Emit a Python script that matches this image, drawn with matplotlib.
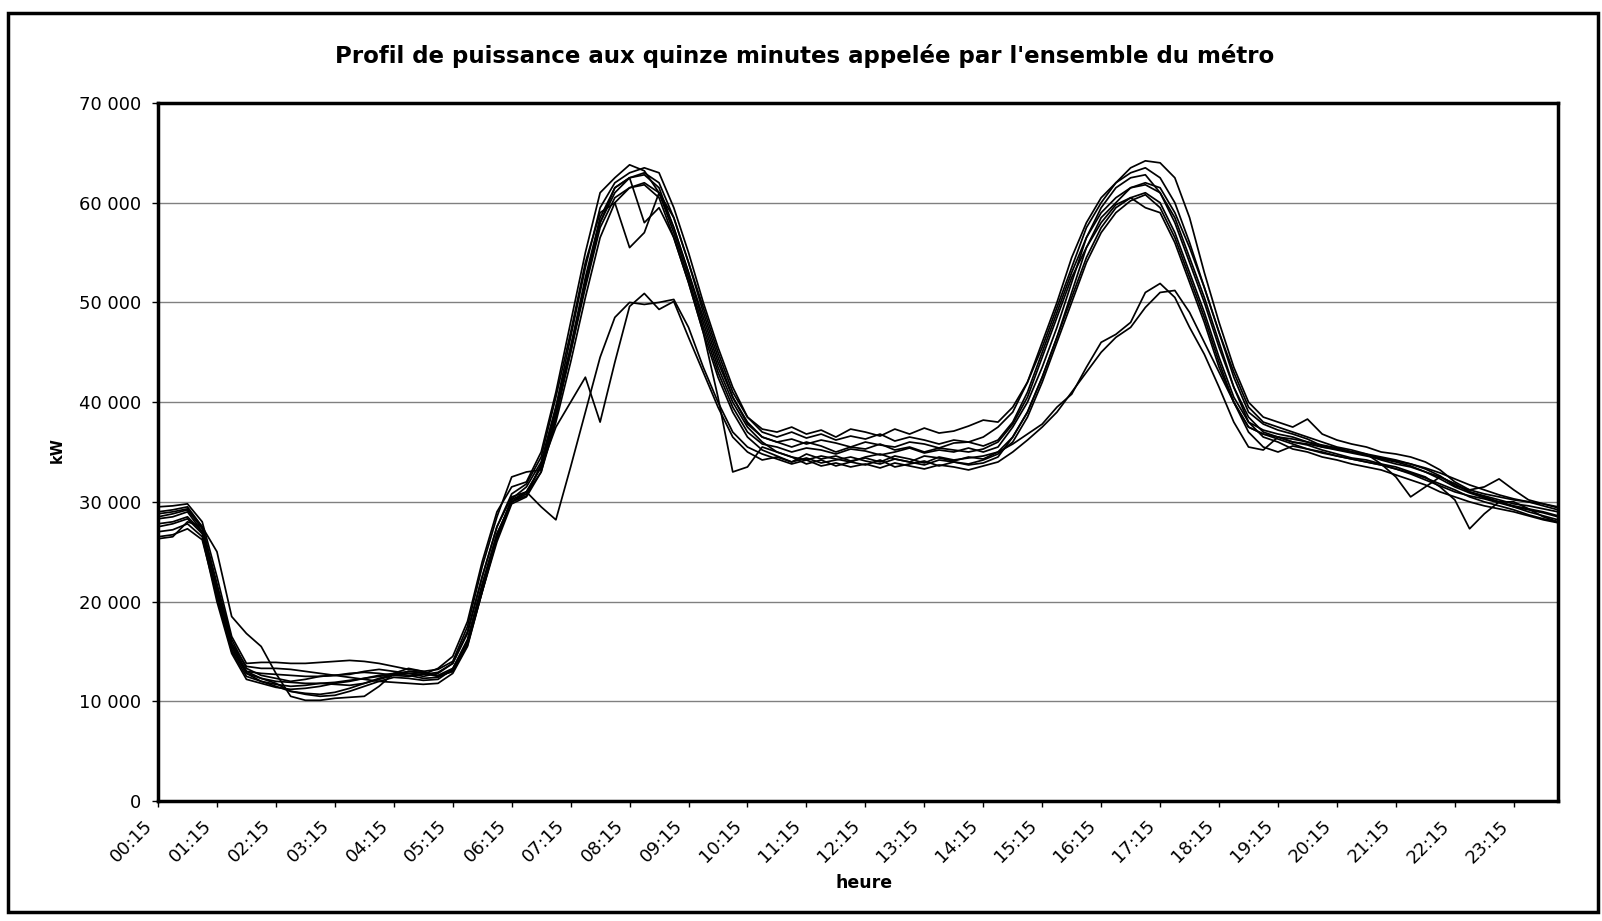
import matplotlib
matplotlib.use("Agg")
import matplotlib.pyplot as plt
from matplotlib.patches import Rectangle
from matplotlib.transforms import ScaledTranslation

plt.rcParams['font.family'] = ['DejaVu Sans']

# 96 quarter-hour steps, 00:15 -> 24:00 ; one label per hour
hours = ["%02d:15" % h for h in range(24)]
ytick_values = [0, 10000, 20000, 30000, 40000, 50000, 60000, 70000]
ytick_labels = ["0", "10 000", "20 000", "30 000", "40 000", "50 000", "60 000", "70 000"]

# power profiles (kW), one list per day
jour_1 = [29500, 29600, 29800, 28000, 22500, 16500, 13800, 13900,
          13900, 13800, 13800, 13900, 14000, 14100, 14000, 13800,
          13500, 13200, 13000, 13200, 14000, 17500, 23500, 28500,
          32500, 33000, 33200, 38500, 45500, 52500, 58500, 61500,
          62500, 63000, 62000, 58500, 54000, 49500, 45000, 41000,
          38500, 37300, 37000, 37500, 36800, 37200, 36500, 37300,
          37000, 36600, 37300, 36800, 37400, 36900, 37100, 37600,
          38200, 38000, 39500, 42000, 45500, 49500, 53500, 57500,
          60000, 62000, 63500, 64200, 64000, 62500, 58500, 53000,
          48000, 43500, 40000, 38500, 38000, 37500, 38300, 36800,
          36200, 35800, 35500, 35000, 34800, 34500, 34000, 33200,
          32000, 31200, 30800, 30500, 30200, 30000, 29800, 29500]

jour_2 = [29000, 29200, 29500, 27500, 21500, 15500, 13000, 12800,
          12700, 12600, 12500, 12500, 12600, 12800, 12900, 12800,
          12600, 12500, 12700, 13300, 14500, 18000, 24000, 29000,
          31500, 32000, 35000, 41000, 48000, 55000, 61000, 62500,
          63800, 63200, 61000, 57000, 52500, 47500, 43000, 39500,
          37000, 35800, 35500, 35000, 35400, 35200, 34800, 35300,
          35100, 34700, 35000, 35400, 34900, 35200, 35000, 35400,
          35000, 35500, 37500, 40000, 43500, 47500, 52000, 56500,
          59500, 61500, 62500, 62800, 61000, 58000, 54000, 50000,
          45500, 41500, 38500, 37000, 36500, 36000, 35800, 35500,
          35200, 34900, 34600, 34300, 34000, 33600, 33000, 32500,
          31800, 31000, 30600, 30200, 29800, 29600, 29300, 29000]

jour_3 = [28500, 28800, 29200, 27300, 21000, 15500, 12800, 12300,
          12000, 11900, 11800, 11800, 11900, 12100, 12300, 12500,
          12700, 12800, 12700, 12900, 13800, 16800, 22500, 27500,
          30500, 31000, 33500, 39000, 45000, 51500, 57500, 60500,
          61500, 62000, 61000, 57500, 53000, 48000, 43500, 40000,
          37500, 36000, 35000, 34500, 34200, 34600, 34300, 34000,
          34500, 34800, 34300, 34000, 34600, 34400, 34100, 34500,
          34300, 35000, 36500, 39000, 42500, 46500, 50500, 54500,
          57500, 59500, 60500, 61000, 60000, 57000, 53000, 49000,
          44500, 40500, 38000, 37200, 36800, 36500, 36000, 35500,
          35300, 35000, 34700, 34200, 33800, 33500, 33000, 32300,
          31500, 30900, 30400, 30000, 29600, 29300, 29000, 28600]

jour_4 = [27500, 27800, 28300, 26800, 20500, 15000, 12500, 12000,
          11700, 11500, 11600, 11800, 11700, 11600, 11800, 12200,
          12600, 13000, 12900, 12600, 13300, 16200, 21800, 26800,
          30000, 30800, 33000, 38000, 44000, 50500, 56500, 60000,
          61500, 61800, 60500, 56500, 52000, 47000, 42500, 39000,
          36500, 35200, 34600, 34000, 34400, 33900, 34200, 34500,
          34100, 33800, 34300, 34000, 33700, 34200, 34000, 33800,
          34200, 34800, 36000, 38500, 42000, 46000, 50000, 54000,
          57000, 59000, 60200, 60800, 59500, 56500, 52500, 48500,
          44000, 40000, 37500, 36800, 36500, 36000, 35700, 35200,
          34800, 34400, 34200, 33800, 33500, 33000, 32500, 31500,
          30200, 27300, 28800, 30000, 30000, 29300, 28500, 28000]

jour_5 = [27000, 27200, 27800, 26500, 20000, 14800, 12200, 11800,
          11400, 11200, 11300, 11500, 11800, 12000, 12300, 12600,
          12800, 12600, 12300, 12400, 13200, 16000, 21500, 26500,
          30300, 31500, 34000, 39500, 45500, 52000, 58000, 61500,
          62500, 62800, 61500, 57500, 53000, 48500, 44000, 40500,
          38000, 36500, 36000, 36300, 35800, 36200, 35900, 35500,
          36000, 35700, 35500, 36000, 35800, 35400, 35900, 36000,
          35600, 36200, 38000, 41000, 45000, 49000, 53000, 56500,
          59000, 60500, 61500, 62000, 61500, 59000, 55500, 51500,
          47000, 42500, 39000, 37800, 37200, 36800, 36300, 35600,
          35400, 35000, 34800, 34500, 34200, 33800, 33300, 32600,
          31600, 31200, 31500, 32300, 31200, 30200, 29800, 29400]

jour_6 = [28300, 28500, 29000, 27000, 21000, 15800, 13500, 13300,
          13300, 13200, 13000, 12800, 12600, 12700, 13000, 13200,
          13000, 12800, 12500, 12800, 13800, 17000, 22500, 27500,
          30800, 31800, 34500, 40500, 47000, 54000, 59000, 60000,
          55500, 57000, 61000, 58500, 54000, 49000, 44500, 40500,
          37800, 36500, 36000, 35500, 36000, 35600, 35000, 35500,
          35300, 35800, 35200, 35500, 35000, 35400, 35200, 35000,
          35300, 36000, 37800, 40500, 44500, 48500, 52500, 55500,
          58000, 59800, 60500, 59500, 59000, 56000, 52000, 48000,
          43500, 40000, 37500, 36800, 36300, 35800, 35300, 35000,
          34600, 34300, 34000, 33700, 33300, 32800, 32200, 31600,
          31000, 30600, 30300, 29900, 29500, 29200, 28900, 28500]

jour_7 = [26500, 26700, 27300, 26200, 20500, 15200, 12800, 12000,
          11500, 11000, 10800, 10700, 10900, 11300, 11800, 12300,
          12700, 13000, 12800, 12500, 13000, 15800, 21000, 26000,
          29800, 30500, 33000, 38500, 45000, 52000, 58000, 61000,
          62500, 58000, 59500, 56500, 52000, 47000, 40500, 33000,
          33500, 35500, 35000, 34500, 33800, 34200, 33600, 34000,
          33700, 34200, 33500, 33800, 34100, 33600, 34000, 33700,
          33900, 34500, 36500, 39000, 42500, 46500, 51000, 55500,
          58500, 60000, 61500, 61800, 61000, 58500, 54500, 50500,
          46000, 41500, 38000, 36500, 36000, 35300, 35000, 34500,
          34200, 33800, 33500, 33200, 32700, 32200, 31700, 31000,
          30500, 30000, 29600, 29300, 29000, 28600, 28200, 27900]

jour_8 = [28800, 29000, 29300, 27500, 21800, 16200, 13300, 12600,
          12300, 12000, 12200, 12500, 12600, 12400, 12200, 12000,
          11900, 11800, 11700, 11800, 12800, 15500, 21000, 26500,
          30200, 31000, 33500, 37500, 40000, 42500, 38000, 44000,
          49600, 50900, 49300, 50100, 46500, 43000, 39500, 36500,
          35000, 34200, 34500, 34000, 34800, 34300, 34600, 34100,
          34400, 34000, 34600, 34300, 33900, 34500, 34200, 34400,
          34600, 35000, 35800, 36800, 37800, 39500, 40800, 43500,
          46000, 46800, 48000, 51000, 51900, 50500, 47500, 44800,
          41500, 38000, 35500, 35200, 36500, 36300, 36000, 35700,
          35400, 35000, 34700, 34400, 34100, 33800, 33400, 32900,
          32300, 31700, 31200, 30700, 30300, 30000, 29600, 29200]

jour_9 = [27800, 28000, 28500, 27000, 21300, 15800, 13000, 12300,
          11800, 11000, 10700, 10500, 10600, 11000, 11500, 12000,
          12400, 12300, 12100, 12200, 13200, 16000, 21500, 26800,
          30000, 31000, 29500, 28200, 33500, 39000, 44500, 48500,
          50000, 49800, 50000, 50300, 47500, 43500, 40000, 37000,
          35500, 34800, 34300, 33800, 34200, 33600, 33900, 33500,
          33800, 33400, 33900, 33600, 33300, 33700, 33500, 33200,
          33600, 34000, 35000, 36200, 37500, 39000, 41000, 43000,
          45000, 46500, 47500, 49500, 51000, 51200, 49000, 46000,
          43000, 40000, 37000, 35500, 35000, 35600, 35300, 34900,
          34600, 34300, 34000, 33700, 33300, 32900, 32400, 31800,
          31200, 30500, 30000, 29600, 29200, 28700, 28300, 28000]

jour_10 = [26300, 26500, 28000, 27500, 25000, 18500, 16800, 15500,
           12800, 10500, 10100, 10100, 10300, 10400, 10500, 11500,
           12800, 13300, 13000, 12500, 13000, 15600, 21000, 26300,
           30000, 30600, 33800, 39500, 46500, 53500, 59500, 62000,
           63000, 63500, 63000, 59500, 55000, 50000, 45500, 41500,
           38500, 37000, 36500, 37000, 36400, 36800, 36200, 36600,
           36300, 36800, 36100, 36500, 36200, 35800, 36200, 36000,
           36500, 37500, 39000, 42000, 46000, 50000, 54500, 58000,
           60500, 62000, 63000, 63500, 62500, 60000, 56000, 51500,
           47000, 43000, 39500, 38000, 37500, 37000, 36500, 36000,
           35500, 35200, 34800, 33800, 32500, 30500, 31500, 32500,
           31800, 31000, 30500, 30000, 29500, 29000, 28600, 28200]

jours = [jour_1, jour_2, jour_3, jour_4, jour_5, jour_6, jour_7, jour_8, jour_9, jour_10]

fig = plt.figure(figsize=(16.02, 9.21), dpi=100)
ax = fig.add_axes([158 / 1602, 1 - 801 / 921, 1400 / 1602, 698 / 921])

x = list(range(len(jour_1)))
for serie in jours:
    ax.plot(x, serie, color='black', lw=1.25, solid_joinstyle='round')

ax.set_xlim(0, len(x) - 1)
ax.set_ylim(0, 70000)

ax.set_yticks(ytick_values)
ax.set_yticklabels(ytick_labels, fontsize=13)
ax.set_xticks(list(range(0, len(x), 4)))
ax.set_xticklabels(hours, rotation=45, ha='right', va='center',
                   rotation_mode='anchor', fontsize=13)
ax.tick_params(axis='both', direction='out', length=4, width=1)
ax.tick_params(axis='y', pad=8)
ax.tick_params(axis='x', pad=12)

# nudge the rotated hour labels a little to the left, like the original
shift = ScaledTranslation(-6 / 72, 0, fig.dpi_scale_trans)
for lab in ax.get_xticklabels():
    lab.set_transform(lab.get_transform() + shift)

ax.yaxis.grid(True, color='#808080', lw=1)
ax.set_axisbelow(True)
for sp in ax.spines.values():
    sp.set_linewidth(2.5)

fig.text(57 / 1602, 1 - 450 / 921, 'kW', rotation=90, ha='center', va='center',
         fontsize=10.5, fontweight='bold')
fig.text(864 / 1602, 1 - 883 / 921, 'heure', ha='center', va='center',
         fontsize=12.5, fontweight='bold')

fig.text(805 / 1602, 1 - 56 / 921,
         "Profil de puissance aux quinze minutes appelée par l'ensemble du métro",
         ha='center', va='center', fontsize=16.5, fontweight='bold')

# outer chart frame
fig.patches.append(Rectangle((8 / 1602, 1 - 912 / 921), 1590 / 1602, 899 / 921,
                             transform=fig.transFigure, fill=False,
                             edgecolor='black', lw=2.5))

fig.savefig('out.png', dpi=100)
